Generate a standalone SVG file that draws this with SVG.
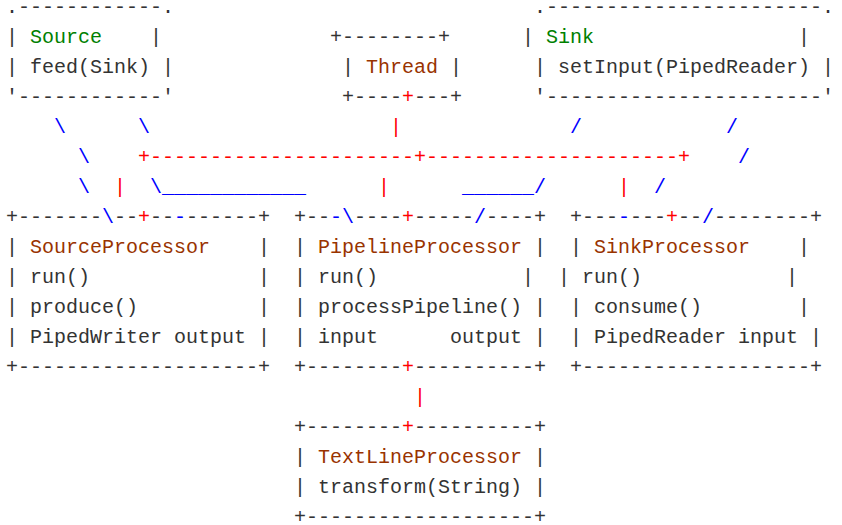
<svg xmlns="http://www.w3.org/2000/svg" width="842" height="525" viewBox="0 0 842 525" xml:space="preserve">
<style>
text{font-family:"Liberation Mono","DejaVu Sans Mono",monospace;font-size:20px;fill:#333333;white-space:pre}
.g{fill:#008000}
.b{fill:#993300}
.r{fill:#ff0000}
.u{fill:#0000ff}
</style>
<rect width="842" height="525" fill="#ffffff"/>
<g id="source">
<text x="6" y="13">.------------.</text>
<text x="6" y="43">| <tspan class="g">Source</tspan>    |</text>
<text x="6" y="73">| feed(Sink) |</text>
<text x="6" y="103">'------------'</text>
</g>
<g id="thread">
<text x="330" y="43">+--------+</text>
<text x="342" y="73">| <tspan class="b">Thread</tspan> |</text>
<text x="342" y="103">+---- ---+</text>
</g>
<g id="sink">
<text x="534" y="13">.-----------------------.</text>
<text x="522" y="43">| <tspan class="g">Sink</tspan>                 |</text>
<text x="534" y="73">| setInput(PipedReader) |</text>
<text x="534" y="103">'-----------------------'</text>
</g>
<g id="source-processor">
<text x="6" y="223">+------- -- -- ------+</text>
<text x="6" y="253">| <tspan class="b">SourceProcessor</tspan>    |</text>
<text x="6" y="283">| run()              |</text>
<text x="6" y="313">| produce()          |</text>
<text x="6" y="343">| PipedWriter output |</text>
<text x="6" y="373">+--------------------+</text>
</g>
<g id="pipeline-processor">
<text x="294" y="223">+--  ---- ----- ----+</text>
<text x="294" y="253">| <tspan class="b">PipelineProcessor</tspan> |</text>
<text x="294" y="283">| run()            |</text>
<text x="294" y="313">| processPipeline() |</text>
<text x="294" y="343">| input      output |</text>
<text x="294" y="373">+-------- ----------+</text>
</g>
<g id="sink-processor">
<text x="570" y="223">+--- --- -- --------+</text>
<text x="570" y="253">| <tspan class="b">SinkProcessor</tspan>    |</text>
<text x="558" y="283">| run()            |</text>
<text x="570" y="313">| consume()        |</text>
<text x="570" y="343">| PipedReader input |</text>
<text x="570" y="373">+-------------------+</text>
</g>
<g id="textline-processor">
<text x="294" y="433">+-------- ----------+</text>
<text x="294" y="463">| <tspan class="b">TextLineProcessor</tspan> |</text>
<text x="294" y="493">| transform(String) |</text>
<text x="294" y="523">+-------------------+</text>
</g>
<g id="connectors">
<text class="r" x="402" y="103">+</text>
<text class="u" x="54" y="133">\</text>
<text class="u" x="138" y="133">\</text>
<text class="r" x="390" y="133">|</text>
<text class="u" x="570" y="133">/</text>
<text class="u" x="726" y="133">/</text>
<text class="u" x="78" y="163">\</text>
<text class="r" x="138" y="163">+----------------------+---------------------+</text>
<text class="u" x="738" y="163">/</text>
<text class="u" x="78" y="193">\</text>
<text class="r" x="114" y="193">|</text>
<text class="u" x="150" y="193">\____________</text>
<text class="r" x="378" y="193">|</text>
<text class="u" x="462" y="193">______/</text>
<text class="r" x="618" y="193">|</text>
<text class="u" x="654" y="193">/</text>
<text class="u" x="102" y="223">\</text>
<text class="r" x="138" y="223">+</text>
<text class="u" x="174" y="223">-</text>
<text class="u" x="330" y="223">-\</text>
<text class="r" x="402" y="223">+</text>
<text class="u" x="474" y="223">/</text>
<text class="u" x="618" y="223">-</text>
<text class="r" x="666" y="223">+</text>
<text class="u" x="702" y="223">/</text>
<text class="r" x="402" y="373">+</text>
<text class="r" x="414" y="403">|</text>
<text class="r" x="402" y="433">+</text>
</g>
</svg>
